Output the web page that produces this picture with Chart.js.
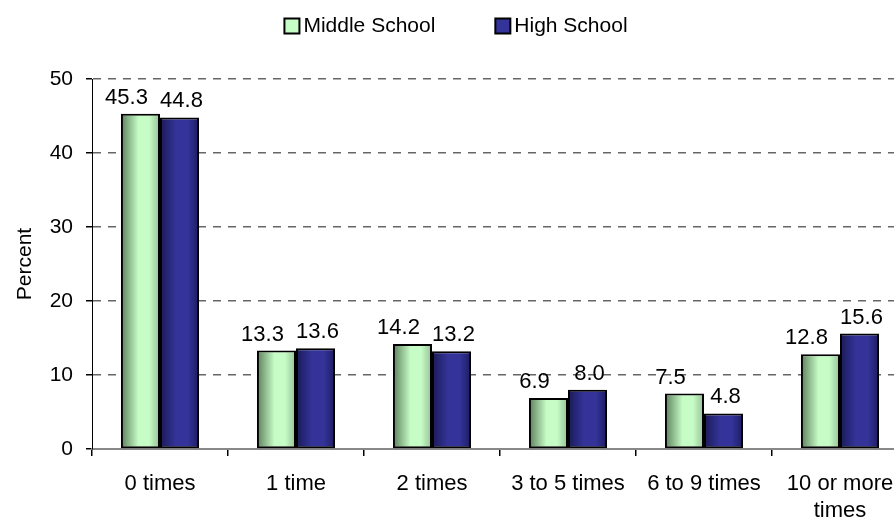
<!DOCTYPE html>
<html>
<head>
<meta charset="utf-8">
<script src="https://cdn.jsdelivr.net/npm/chart.js@4.4.1/dist/chart.umd.min.js"></script>
<style>
  html, body { margin: 0; padding: 0; background: #fff; overflow: hidden; }
  #wrap { width: 918px; height: 518px; }
</style>
</head>
<body>
<div id="wrap"><canvas id="chart" width="918" height="518"></canvas></div>
<script>
// dane z wykresu
const categories = ["0 times", "1 time", "2 times", "3 to 5 times", "6 to 9 times", ["10 or more", "times"]];
const middleSchool = [45.3, 13.3, 14.2, 6.9, 7.5, 12.8];
const highSchool = [44.8, 13.6, 13.2, 8.0, 4.8, 15.6];
const yTicks = [0, 10, 20, 30, 40, 50];

const fontFamily = "'Liberation Sans', Arial, sans-serif";
const fillColors = ["#c6fcc6", "#333399"];

// gradient na słupkach (osobny obiekt opcji dla każdego słupka)
const barGradients = {
  id: "barGradients",
  beforeDatasetsDraw(chart) {
    const ctx = chart.ctx;
    chart.data.datasets.forEach((ds, i) => {
      chart.getDatasetMeta(i).data.forEach(bar => {
        const x0 = bar.x - bar.width / 2;
        const g = ctx.createLinearGradient(x0, 0, x0 + bar.width, 0);
        if (i === 0) {
          g.addColorStop(0, "#5c7f5c");
          g.addColorStop(0.45, "#c6fcc6");
          g.addColorStop(0.72, "#c6fcc6");
          g.addColorStop(1, "#94bf94");
        } else {
          g.addColorStop(0, "#1a1a55");
          g.addColorStop(0.4, "#333399");
          g.addColorStop(0.72, "#333399");
          g.addColorStop(1, "#1c1c60");
        }
        bar.options = Object.assign({}, bar.options, { backgroundColor: g });
      });
    });
  }
};

// etykiety wartości nad słupkami
const labelShift = [-14, 2];
const valueLabels = {
  id: "valueLabels",
  afterDatasetsDraw(chart) {
    const ctx = chart.ctx;
    ctx.save();
    ctx.font = "22px " + fontFamily;
    ctx.fillStyle = "#000";
    ctx.textAlign = "center";
    ctx.textBaseline = "alphabetic";
    chart.data.datasets.forEach((ds, i) => {
      chart.getDatasetMeta(i).data.forEach((bar, j) => {
        ctx.fillText(ds.data[j].toFixed(1), bar.x + labelShift[i], bar.y - 10);
      });
    });
    ctx.restore();
  }
};

// legenda u góry (jak w Excelu: kwadrat tuż przy tekście)
const topLegend = {
  id: "topLegend",
  afterDraw(chart) {
    const ctx = chart.ctx;
    ctx.save();
    ctx.font = "21px " + fontFamily;
    const box = 15, gapText = 4, gapItems = 60;
    const items = chart.data.datasets.map((ds, i) => ({ text: ds.label, color: fillColors[i], w: box + gapText + ctx.measureText(ds.label).width }));
    const total = items.reduce((s, it) => s + it.w, 0) + gapItems * (items.length - 1);
    let x = 456 - total / 2;
    const yc = 26;
    items.forEach(it => {
      ctx.fillStyle = it.color;
      ctx.fillRect(x, yc - box / 2, box, box);
      ctx.strokeStyle = "#000";
      ctx.lineWidth = 2;
      ctx.strokeRect(x, yc - box / 2, box, box);
      ctx.fillStyle = "#000";
      ctx.textBaseline = "middle";
      ctx.textAlign = "left";
      ctx.fillText(it.text, x + box + gapText, yc);
      x += it.w + gapItems;
    });
    ctx.restore();
  }
};

new Chart(document.getElementById("chart"), {
  type: "bar",
  data: {
    labels: categories,
    datasets: [
      { label: "Middle School", data: middleSchool, backgroundColor: fillColors[0], borderColor: "#000", borderWidth: 2, borderSkipped: false },
      { label: "High School", data: highSchool, backgroundColor: fillColors[1], borderColor: "#000", borderWidth: 2, borderSkipped: false }
    ]
  },
  options: {
    responsive: false,
    animation: false,
    layout: { padding: { top: 79, right: 10, left: 0, bottom: 0 } },
    categoryPercentage: 0.574,
    barPercentage: 1.0,
    plugins: {
      legend: { display: false },
      tooltip: { enabled: false }
    },
    scales: {
      x: {
        afterFit(scale) { scale.height = 69; },
        grid: { offset: true, display: true, drawOnChartArea: false, drawTicks: true, tickLength: 7, color: "#000", lineWidth: 1.5 },
        border: { color: "#888", width: 2 },
        ticks: { color: "#000", font: { family: fontFamily, size: 22, lineHeight: 1.22 }, padding: 15, maxRotation: 0 }
      },
      y: {
        min: 0, max: 50,
        afterFit(scale) { scale.width = 92; },
        afterBuildTicks(scale) { scale.ticks = yTicks.map(v => ({ value: v })); },
        grid: {
          color: ctx => ctx.tick && ctx.tick.value === 0 ? "rgba(0,0,0,0)" : "#666",
          tickColor: "#000",
          tickLength: 6,
          lineWidth: 1.5
        },
        border: { color: "#000", width: 1, dash: [8, 7] },
        ticks: { color: "#000", font: { family: fontFamily, size: 21 }, padding: 13 },
        title: { display: true, text: "Percent", color: "#000", font: { family: fontFamily, size: 21 }, padding: { top: 13, bottom: 0 } }
      }
    }
  },
  plugins: [barGradients, valueLabels, topLegend]
});
</script>
</body>
</html>
